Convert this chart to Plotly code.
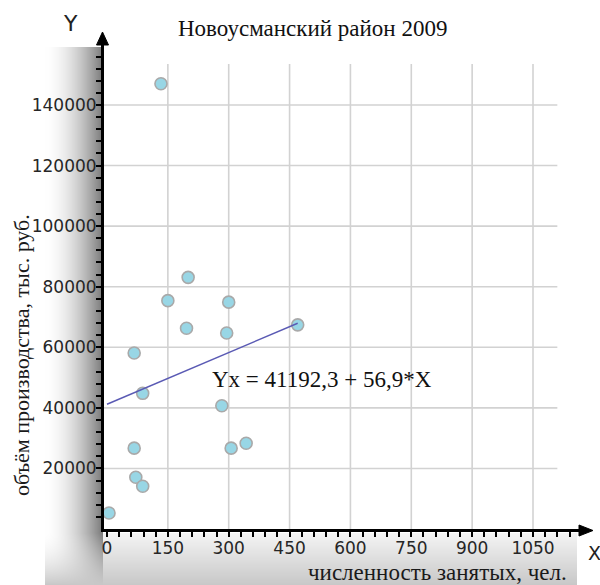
import base64
import struct
import zlib

import numpy as np
import plotly.graph_objects as go

# ---- data -------------------------------------------------------------
employees = [133, 200, 150, 300, 196, 295, 67, 470, 88, 283, 67, 306, 343, 71, 88, 5]
output = [147000, 83100, 75400, 74900, 66300, 64700, 58100, 67400,
          44800, 40700, 26700, 26700, 28300, 17100, 14100, 5300]

intercept = 41192.3
slope = 56.9

x_tick_vals = [0, 150, 300, 450, 600, 750, 900, 1050]
y_tick_vals = [20000, 40000, 60000, 80000, 100000, 120000, 140000]

title_text = "Новоусманский район 2009"
x_title = "численность занятых, чел."
y_title = "объём производства, тыс. руб."

# ---- geometry (pixels) --------------------------------------------------
W, H = 600, 585
PL, PR, PT, PB = 104, 577, 50, 529          # plot area edges
X0_PX, X_SCALE = 107, 426 / 1050             # px of x=0, px per unit
Y0_PX, Y_SCALE = 529, 424 / 140000           # px of y=0, px per unit
GRID_X_MAX = 1110
GRID_Y_MAX = 153500

pw, ph = PR - PL, PB - PT


def px_x(px):
    return (px - PL) / pw


def px_y(py):
    return (PB - py) / ph


x_range = [(PL - X0_PX) / X_SCALE, (PR - X0_PX) / X_SCALE]
y_range = [(Y0_PX - PB) / Y_SCALE, (Y0_PX - PT) / Y_SCALE]


# ---- shaded backdrop (left wall + floor) ----------------------------------
def png_uri(rgb):
    h, w, _ = rgb.shape
    raw = b"".join(b"\x00" + rgb[r].tobytes() for r in range(h))

    def chunk(tag, data):
        c = struct.pack(">I", len(data)) + tag + data
        return c + struct.pack(">I", zlib.crc32(tag + data) & 0xFFFFFFFF)

    png = (b"\x89PNG\r\n\x1a\n"
           + chunk(b"IHDR", struct.pack(">IIBBBBB", w, h, 8, 2, 0, 0, 0))
           + chunk(b"IDAT", zlib.compress(raw, 9))
           + chunk(b"IEND", b""))
    return "data:image/png;base64," + base64.b64encode(png).decode()


gx, gy = np.meshgrid(np.arange(W) + 0.5, np.arange(H) + 0.5)
g = np.full((H, W), 255.0)
t = np.clip((gx - 45) / 58, 0, 1)
wall = 255 - 135 * t ** 1.8
s = np.clip((gy - 533) / 52, 0, 1)
floor = 245 - 45 * s
wall_mask = (gx >= 45) & (gx < 103) & (gy >= 47) & (gy < 533)
floor_mask = (gx >= 103) & (gx < 577) & (gy >= 533)
corner_mask = (gx >= 45) & (gx < 103) & (gy >= 533)
g[wall_mask] = wall[wall_mask]
g[floor_mask] = floor[floor_mask]
corner = wall * (1 - s) + floor * s
g[corner_mask] = corner[corner_mask]
rgb = np.repeat(np.clip(g, 0, 255).astype(np.uint8)[:, :, None], 3, axis=2)

# ---- figure ---------------------------------------------------------------
fig = go.Figure()

fig.add_trace(go.Scatter(
    x=employees, y=output, mode="markers",
    marker=dict(size=12, color="#98d6e5", line=dict(color="#a9a9a9", width=1.6)),
    showlegend=False, hoverinfo="x+y",
))

x_line = [0, max(employees)]
fig.add_trace(go.Scatter(
    x=x_line, y=[intercept + slope * v for v in x_line], mode="lines",
    line=dict(color="#5a5ab4", width=1.4), showlegend=False, hoverinfo="skip",
))

shapes = []
# grid
for v in x_tick_vals[1:]:
    shapes.append(dict(type="line", xref="x", yref="y", x0=v, x1=v, y0=0, y1=GRID_Y_MAX,
                       line=dict(color="#d2d2d2", width=1.6), layer="below"))
for v in y_tick_vals:
    shapes.append(dict(type="line", xref="x", yref="y", x0=x_range[0], x1=GRID_X_MAX, y0=v, y1=v,
                       line=dict(color="#d2d2d2", width=1.6), layer="below"))

# axis extensions and arrow heads
shapes.append(dict(type="line", xref="paper", yref="paper",
                   x0=px_x(102.5), x1=px_x(102.5), y0=px_y(PT), y1=px_y(44),
                   line=dict(color="black", width=3)))
shapes.append(dict(type="path", xref="paper", yref="paper",
                   path=f"M {px_x(96.5)} {px_y(45)} L {px_x(108.5)} {px_y(45)} L {px_x(102.5)} {px_y(32)} Z",
                   fillcolor="black", line=dict(color="black", width=1)))
shapes.append(dict(type="line", xref="paper", yref="paper",
                   x0=px_x(PR), x1=px_x(580), y0=px_y(530.5), y1=px_y(530.5),
                   line=dict(color="black", width=3)))
shapes.append(dict(type="path", xref="paper", yref="paper",
                   path=f"M {px_x(579)} {px_y(525)} L {px_x(579)} {px_y(536)} L {px_x(593)} {px_y(530.5)} Z",
                   fillcolor="black", line=dict(color="black", width=1)))

serif = "Liberation Serif"
sans = "DejaVu Sans"

annotations = [
    dict(text=title_text, xref="paper", yref="paper", x=px_x(312), y=px_y(29),
         xanchor="center", yanchor="middle", showarrow=False,
         font=dict(family=serif, size=23, color="#111")),
    dict(text=y_title, xref="paper", yref="paper", x=px_x(21), y=px_y(355),
         xanchor="center", yanchor="middle", showarrow=False, textangle=-90,
         font=dict(family=serif, size=22, color="#1a1a1a")),
    dict(text=x_title, xref="paper", yref="paper", x=px_x(437), y=px_y(572),
         xanchor="center", yanchor="middle", showarrow=False,
         font=dict(family=serif, size=23, color="#1a1a1a")),
    dict(text="Y", xref="paper", yref="paper", x=px_x(70), y=px_y(24),
         xanchor="center", yanchor="middle", showarrow=False,
         font=dict(family=sans, size=22, color="#222")),
    dict(text="X", xref="paper", yref="paper", x=px_x(586), y=px_y(553),
         xanchor="left", yanchor="middle", showarrow=False,
         font=dict(family=sans, size=19, color="#222")),
    dict(text=f"Yx = {intercept:.1f} + {slope:.1f}*X".replace(".", ","),
         xref="x", yref="y", x=(210 - X0_PX) / X_SCALE, y=(Y0_PX - 379) / Y_SCALE,
         xanchor="left", yanchor="middle", showarrow=False,
         font=dict(family=serif, size=23, color="#111")),
]

fig.update_layout(
    width=W, height=H,
    margin=dict(l=PL, r=W - PR, t=PT, b=H - PB, pad=0),
    paper_bgcolor="white", plot_bgcolor="rgba(0,0,0,0)",
    shapes=shapes, annotations=annotations,
    images=[dict(source=png_uri(rgb), xref="paper", yref="paper",
                 x=px_x(0), y=px_y(0), sizex=W / pw, sizey=H / ph,
                 xanchor="left", yanchor="top", sizing="stretch", layer="below")],
)

fig.update_xaxes(
    range=x_range, showgrid=False, zeroline=False,
    showline=True, linecolor="black", linewidth=3,
    tickmode="array", tickvals=x_tick_vals, ticktext=[str(v) for v in x_tick_vals],
    ticks="outside", ticklen=5, tickwidth=1.5, tickcolor="black",
    minor=dict(tickmode="array", tickvals=list(range(30, 1160, 30)),
               ticks="outside", ticklen=5, tickwidth=1.5, tickcolor="black", showgrid=False),
    tickfont=dict(family=sans, size=17, color="#262626"), ticklabelstandoff=-3,
)
fig.update_yaxes(
    range=y_range, showgrid=False, zeroline=False,
    showline=True, linecolor="black", linewidth=3,
    tickmode="array", tickvals=y_tick_vals, ticktext=[str(v) for v in y_tick_vals],
    ticks="outside", ticklen=5, tickwidth=1.5, tickcolor="black",
    minor=dict(tickmode="array", tickvals=list(range(4000, 158000, 4000)),
               ticks="outside", ticklen=5, tickwidth=1.5, tickcolor="black", showgrid=False),
    tickfont=dict(family=sans, size=17, color="#262626"), ticklabelstandoff=-4,
)

fig.write_html("out.html")
